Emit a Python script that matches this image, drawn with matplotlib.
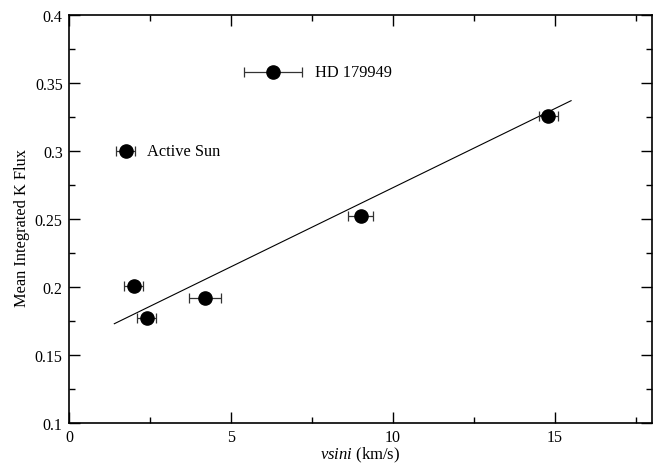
import matplotlib
matplotlib.use('Agg')
import matplotlib.pyplot as plt
from matplotlib.ticker import MultipleLocator

plt.rcParams['font.family'] = ['Liberation Serif', 'DejaVu Serif']
plt.rcParams['mathtext.fontset'] = 'custom'
plt.rcParams['mathtext.rm'] = 'Liberation Serif'
plt.rcParams['mathtext.it'] = 'Liberation Serif:italic'

# Data setup
vsini = [1.75, 6.3, 2.0, 2.4, 4.2, 9.0, 14.8]
vsini_err = [0.3, 0.9, 0.3, 0.3, 0.5, 0.4, 0.3]
k_flux = [0.300, 0.358, 0.201, 0.177, 0.192, 0.252, 0.326]

fit_x = [1.4, 15.5]
fit_y = [0.173, 0.337]

labels = {'Active Sun': (2.4, 0.300), 'HD 179949': (7.6, 0.358)}

fig = plt.figure(figsize=(6.6, 4.64), dpi=100)
ax = fig.add_axes([0.1045, 0.0862, 0.8835, 0.8793])

ax.plot(fit_x, fit_y, color='black', lw=0.8)
ax.errorbar(vsini, k_flux, xerr=vsini_err, fmt='o', color='black',
            ms=9.5, ecolor='#333333', elinewidth=0.9, capsize=3.8,
            capthick=0.9)

for name, (x, y) in labels.items():
    ax.text(x, y, name, fontsize=11.8, va='center', ha='left')

ax.set(xlim=[0, 18], ylim=[0.1, 0.4])
ax.xaxis.set_major_locator(MultipleLocator(5))
ax.xaxis.set_minor_locator(MultipleLocator(2.5))
ax.yaxis.set_major_locator(MultipleLocator(0.05))
ax.yaxis.set_minor_locator(MultipleLocator(0.025))
ax.yaxis.set_major_formatter(lambda v, pos: f'{v:g}')

ax.tick_params(which='both', direction='in', top=True, right=True,
               labelsize=11.5, width=1)
ax.tick_params(which='major', length=8, pad=4)
ax.tick_params(axis='y', which='major', pad=4.5)
ax.tick_params(which='minor', length=4.3)
for s in ax.spines.values():
    s.set_linewidth(1.2)

ax.set_xlabel(r'$\mathit{vsini}$ (km/s)', fontsize=12, labelpad=0)
ax.set_ylabel('Mean Integrated K Flux', fontsize=11.8)
ax.yaxis.set_label_coords(-0.066, 0.48)

fig.savefig('out.png', dpi=100)
